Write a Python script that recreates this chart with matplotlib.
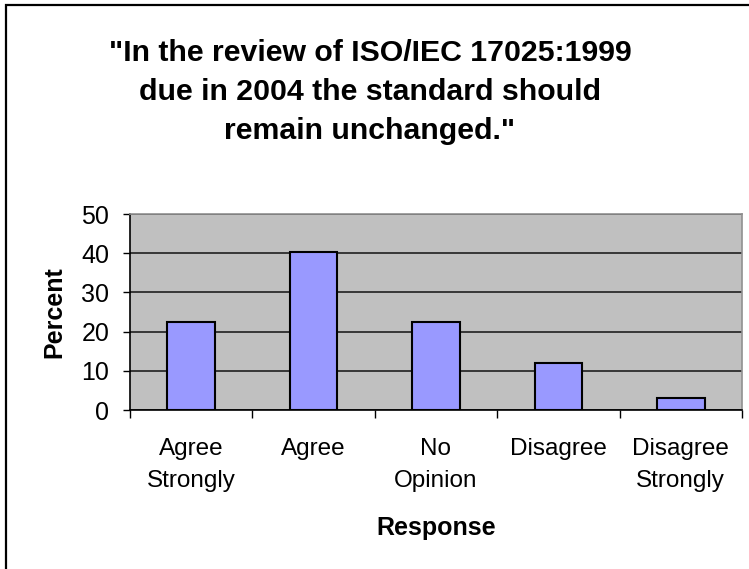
import numpy as np
import matplotlib.pyplot as plt
from matplotlib.patches import Rectangle

categories = ['Agree\nStrongly', 'Agree', 'No\nOpinion', 'Disagree', 'Disagree\nStrongly']
percent = [22.4, 40.3, 22.4, 11.9, 3.0]
yticks = [0, 10, 20, 30, 40, 50]

plt.rcParams['font.family'] = ['Liberation Sans', 'DejaVu Sans']

fig = plt.figure(figsize=(7.49, 5.69), dpi=100)
ax = fig.add_axes([130/749, 1 - 410/569, 612/749, 196/569])

x = np.arange(len(categories))
ax.set_facecolor('#C0C0C0')
ax.bar(x, percent, width=0.39, color='#9999FF', edgecolor='black', linewidth=1.5, zorder=3)

ax.set_xlim(-0.5, len(categories) - 0.5)
ax.set_ylim(0, 50)
ax.set_yticks(yticks)
ax.set_yticklabels([str(t) for t in yticks], fontsize=18)
ax.yaxis.grid(True, color='#202020', linewidth=1.2, zorder=1)
ax.set_axisbelow(True)

ax.set_xticks(x)
ax.set_xticklabels(categories, fontsize=17.5, linespacing=1.62)
ax.set_xticks(np.arange(len(categories) + 1) - 0.5, minor=True)
ax.tick_params(axis='x', which='major', length=0, pad=20)
ax.tick_params(axis='x', which='minor', length=6, width=1, color='black', direction='out')
ax.tick_params(axis='y', length=5, width=1, direction='out', pad=10)

for s in ['top', 'right']:
    ax.spines[s].set_color('#909090')
    ax.spines[s].set_linewidth(1.2)
for s in ['left', 'bottom']:
    ax.spines[s].set_color('black')
    ax.spines[s].set_linewidth(1.2)

ax.set_ylabel('Percent', fontsize=18, fontweight='bold', labelpad=11)
ax.set_xlabel('Response', fontsize=18, fontweight='bold', labelpad=17)

fig.text(370/749, 1 - 92/569,
         '"In the review of ISO/IEC 17025:1999\ndue in 2004 the standard should\nremain unchanged."',
         ha='center', va='center', fontsize=21.8, fontweight='bold', linespacing=1.5)

# outer chart frame
fig.patches.append(Rectangle((6/749, -0.1), 1.2, 1 - 5/569 + 0.1, transform=fig.transFigure,
                             fill=False, edgecolor='black', linewidth=1.6))

plt.savefig('out.png', dpi=100)
plt.close(fig)
